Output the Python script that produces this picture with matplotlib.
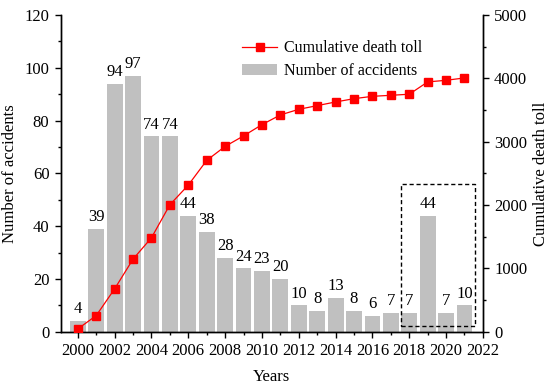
import matplotlib
matplotlib.use("Agg")
import matplotlib.pyplot as plt
from matplotlib.ticker import MultipleLocator
from matplotlib.patches import Rectangle

plt.rcParams['font.family'] = ['Liberation Serif', 'DejaVu Serif']
plt.rcParams['mathtext.fontset'] = 'stix'

years = list(range(2000, 2022))
accidents = [4, 39, 94, 97, 74, 74, 44, 38, 28, 24, 23, 20, 10, 8, 13, 8, 6, 7, 7, 44, 7, 10]
death_toll = [47, 257, 679, 1148, 1485, 2006, 2316, 2706, 2927, 3092, 3270, 3423, 3512,
              3570, 3628, 3680, 3717, 3733, 3750, 3944, 3970, 4007]

fig = plt.figure(figsize=(5.5, 3.85), dpi=100)
ax = fig.add_axes([0.110, 0.138, 0.768, 0.823])
ax2 = ax.twinx()

bars = ax.bar(years, accidents, width=0.86, color='#c0c0c0', edgecolor='none',
              label='Number of accidents', zorder=1)
for x, v in zip(years, accidents):
    ax.text(x, v + 1.5, str(v), ha='center', va='bottom', fontsize=12)

line, = ax2.plot(years, death_toll, color='#ff0000', lw=0.9, marker='s', markersize=6,
                 markerfacecolor='#ff0000', markeredgecolor='#ff0000',
                 label='Cumulative death toll', zorder=3)

ax.set_xlim(1999.06, 2022)
ax.set_ylim(0, 120)
ax2.set_ylim(0, 5000)

ax.xaxis.set_major_locator(MultipleLocator(2))
ax.xaxis.set_minor_locator(MultipleLocator(1))
ax.yaxis.set_major_locator(MultipleLocator(20))
ax.yaxis.set_minor_locator(MultipleLocator(10))
ax2.yaxis.set_major_locator(MultipleLocator(1000))
ax2.yaxis.set_minor_locator(MultipleLocator(500))

for a in (ax, ax2):
    a.spines['top'].set_visible(False)
    for s in a.spines.values():
        s.set_linewidth(1.0)
    a.tick_params(which='major', direction='out', length=4.5, width=1.0, labelsize=12)
    a.tick_params(which='minor', direction='out', length=2.5, width=1.0)

ax.set_xlabel('Years', fontsize=12, labelpad=7)
ax.set_ylabel('Number of accidents', fontsize=12, labelpad=5)
ax2.set_ylabel('Cumulative death toll', fontsize=12, labelpad=4)

rect = Rectangle((2017.55, 2.4), 4.03, 53.6, fill=False, edgecolor='black',
                 lw=1.0, linestyle=(0, (3, 2)), zorder=4)
ax.add_patch(rect)

ax2.legend([line, bars], ['Cumulative death toll', 'Number of accidents'],
           loc='upper left', bbox_to_anchor=(0.415, 0.94), frameon=False, fontsize=11.5,
           handlelength=2.2, handletextpad=0.4, labelspacing=0.4, borderaxespad=0)

fig.savefig('out.png', dpi=100)
